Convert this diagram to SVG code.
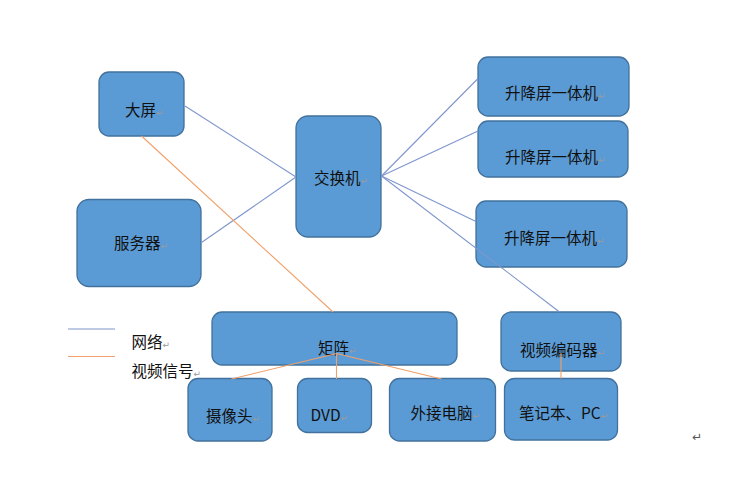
<svg xmlns="http://www.w3.org/2000/svg" width="750" height="479" viewBox="0 0 750 479">
<style>
.box{fill:#5B9BD5;stroke:#41719C;stroke-width:1.3}
.t{font-family:"Noto Sans CJK SC","Liberation Sans",sans-serif;font-size:15.5px;fill:#111}
.pm{font-family:"DejaVu Sans",sans-serif;font-size:9px;fill:#9a9a9a}
.net{stroke:#7F96CC;stroke-width:1.1;fill:none}
.vid{stroke:#F0A06A;stroke-width:1.1;fill:none}
</style>
<rect width="750" height="479" fill="#ffffff"/>
<g id="node-dapin"><rect class="box" x="99" y="72" width="85" height="64" rx="10"/><text class="t" x="125" y="115.5">大屏<tspan class="pm">↵</tspan></text></g>
<g id="node-server"><rect class="box" x="77" y="199.5" width="124" height="87" rx="12"/><text class="t" x="114" y="248.5">服务器<tspan class="pm">↵</tspan></text></g>
<g id="node-switch"><rect class="box" x="296" y="116" width="85" height="121" rx="12"/><text class="t" x="314" y="183.5">交换机<tspan class="pm">↵</tspan></text></g>
<g id="node-lift1"><rect class="box" x="478" y="57" width="151" height="59" rx="10"/><text class="t" x="505" y="99">升降屏一体机<tspan class="pm">↵</tspan></text></g>
<g id="node-lift2"><rect class="box" x="478" y="121" width="150" height="56" rx="10"/><text class="t" x="505" y="163">升降屏一体机<tspan class="pm">↵</tspan></text></g>
<g id="node-lift3"><rect class="box" x="476" y="201" width="151" height="66" rx="10"/><text class="t" x="504" y="244">升降屏一体机<tspan class="pm">↵</tspan></text></g>
<g id="node-matrix"><rect class="box" x="212" y="312" width="245" height="53" rx="10"/><text class="t" x="318" y="354">矩阵<tspan class="pm">↵</tspan></text></g>
<g id="node-encoder"><rect class="box" x="501" y="312" width="120" height="59" rx="10"/><text class="t" x="520" y="355.5">视频编码器<tspan class="pm">↵</tspan></text></g>
<g id="node-camera"><rect class="box" x="188" y="378.5" width="84" height="62.5" rx="10"/><text class="t" x="206" y="422">摄像头<tspan class="pm">↵</tspan></text></g>
<g id="node-dvd"><rect class="box" x="297.5" y="378.5" width="74" height="54" rx="10"/><text class="t" x="310.5" y="420.5">DVD<tspan class="pm">↵</tspan></text></g>
<g id="node-pc"><rect class="box" x="389.5" y="378.5" width="106" height="62.5" rx="10"/><text class="t" x="410.5" y="419">外接电脑<tspan class="pm">↵</tspan></text></g>
<g id="node-laptop"><rect class="box" x="504.5" y="378.5" width="113" height="61.5" rx="10"/><text class="t" x="519" y="419">笔记本、PC<tspan class="pm">↵</tspan></text></g>
<g id="connectors">
<line class="net" x1="185" y1="106" x2="296" y2="177"/>
<line class="net" x1="201.5" y1="242.5" x2="296" y2="177"/>
<line class="net" x1="381.5" y1="176" x2="478" y2="78.5"/>
<line class="net" x1="381.5" y1="176" x2="478" y2="131"/>
<line class="net" x1="381.5" y1="176" x2="476" y2="221.5"/>
<line class="net" x1="381.5" y1="176" x2="559.5" y2="312"/>
<line class="vid" x1="141.5" y1="136" x2="333" y2="312"/>
<line class="vid" x1="336.5" y1="353.5" x2="231.5" y2="379"/>
<line class="vid" x1="336.5" y1="353.5" x2="336.5" y2="379"/>
<line class="vid" x1="336.5" y1="353.5" x2="441.5" y2="379"/>
<line class="vid" x1="561" y1="353" x2="561" y2="378.5"/>
</g>
<g id="legend">
<line class="net" x1="68" y1="329" x2="115" y2="329"/>
<line class="vid" x1="68" y1="356.5" x2="115" y2="356.5"/>
<text class="t" x="131.5" y="348">网络<tspan class="pm">↵</tspan></text>
<text class="t" x="131.5" y="376.5">视频信号<tspan class="pm">↵</tspan></text>
</g>
<text x="692" y="441" font-family="DejaVu Sans, sans-serif" font-size="12" fill="#555">↵</text>
</svg>
